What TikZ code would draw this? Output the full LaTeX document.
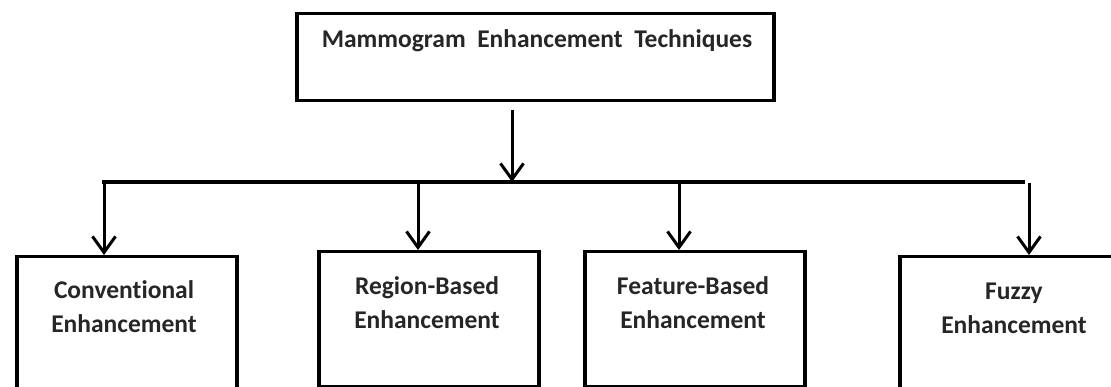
\documentclass[tikz,border=0pt]{standalone}
\usepackage{fontspec}
\setmainfont{Carlito}[Ligatures=NoCommon]
\usetikzlibrary{arrows.meta}

\begin{document}
\begin{tikzpicture}[x=1pt, y=-1pt,
    blk/.style={draw, line width=3.5pt, inner sep=0pt, anchor=north west},
    lbl/.style={font=\bfseries\fontsize{25.5}{34}\selectfont, text=black!85, align=center, inner sep=0pt, anchor=base},
    arr/.style={line width=3pt, -{Straight Barb[length=16pt,width=23pt]}}]
  \useasboundingbox (0,0) rectangle (1111,387);
  \clip (0,0) rectangle (1111,387);
  % boxes
  \node [blk, minimum width=477, minimum height=87] (top) at (295,12) {};
  \node [blk, minimum width=220, minimum height=150] (conv) at (15,255) {};
  \node [blk, minimum width=220, minimum height=135] (region) at (317,250) {};
  \node [blk, minimum width=220, minimum height=135] (feature) at (583,250) {};
  \node [blk, minimum width=232, minimum height=150] (fuzzy) at (898,255) {};
  % labels (base = last line)
  \node [lbl] (topt) at (537,48) {Mammogram\ \ Enhancement\ \ Techniques};
  \node [lbl] (convt) at (124,332) {Conventional\\Enhancement};
  \node [lbl] (regiont) at (427,329) {Region-Based\\Enhancement};
  \node [lbl] (featuret) at (693,328) {Feature-Based\\Enhancement};
  \node [lbl] (fuzzyt) at (1014,334) {Fuzzy\\Enhancement};
  % connectors
  \coordinate (src) at (512,110);
  \coordinate (busM) at (512,182);
  \coordinate (busL) at (104,182);
  \coordinate (busR) at (1023,182);
  \coordinate (bR) at (418,182);
  \coordinate (bF) at (679,182);
  \coordinate (bZ) at (1029,183);
  \draw [arr] (src) -- (busM);
  \draw [line width=3.5pt, line cap=rect] (busL) -- (busR);
  \draw [arr] (busL) -- (busL |- conv.north);
  \draw [arr] (bR) -- (bR |- region.north);
  \draw [arr] (bF) -- (bF |- feature.north);
  \draw [arr] (bZ) -- (bZ |- fuzzy.north);
\end{tikzpicture}
\end{document}
